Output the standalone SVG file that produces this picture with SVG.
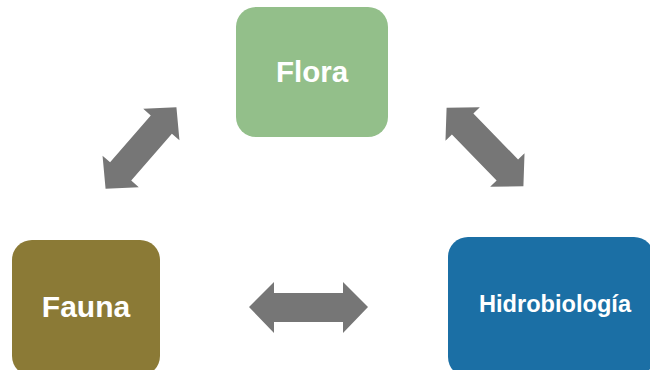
<svg xmlns="http://www.w3.org/2000/svg" width="650" height="370" viewBox="0 0 650 370">
<defs>
<style>
.lbl{font-family:"Liberation Sans",Arial,sans-serif;font-weight:bold;fill:#ffffff;text-anchor:middle}
.arr{fill:#767676}
</style>
</defs>
<rect width="650" height="370" fill="#ffffff"/>
<g id="connectors">
<path class="arr" d="M249,307 L274,282 L274,293 L343,293 L343,282 L368,307 L343,333 L343,322 L274,322 L274,333 Z"/>
<path class="arr" transform="translate(141,148) rotate(-49)" d="M-54,0 L-31,-24 L-31,-14 L31,-14 L31,-24 L54,0 L31,24 L31,14 L-31,14 L-31,24 Z"/>
<path class="arr" transform="translate(485,147) rotate(45.7)" d="M-55,0 L-32,-24 L-32,-15 L32,-15 L32,-24 L55,0 L32,24 L32,15 L-32,15 L-32,24 Z"/>
</g>
<g id="flora">
<rect x="236" y="7" width="152" height="130" rx="20" fill="#93bf8a"/>
<text class="lbl" x="312" y="82" font-size="29.5">Flora</text>
</g>
<g id="fauna">
<rect x="12" y="240" width="148" height="136" rx="20" fill="#8b7a36"/>
<text class="lbl" x="86" y="317" font-size="30">Fauna</text>
</g>
<g id="hidrobiologia">
<rect x="448" y="237" width="206" height="140" rx="20" fill="#1b6fa5"/>
<text class="lbl" x="555" y="312" font-size="23.6">Hidrobiología</text>
</g>
</svg>
